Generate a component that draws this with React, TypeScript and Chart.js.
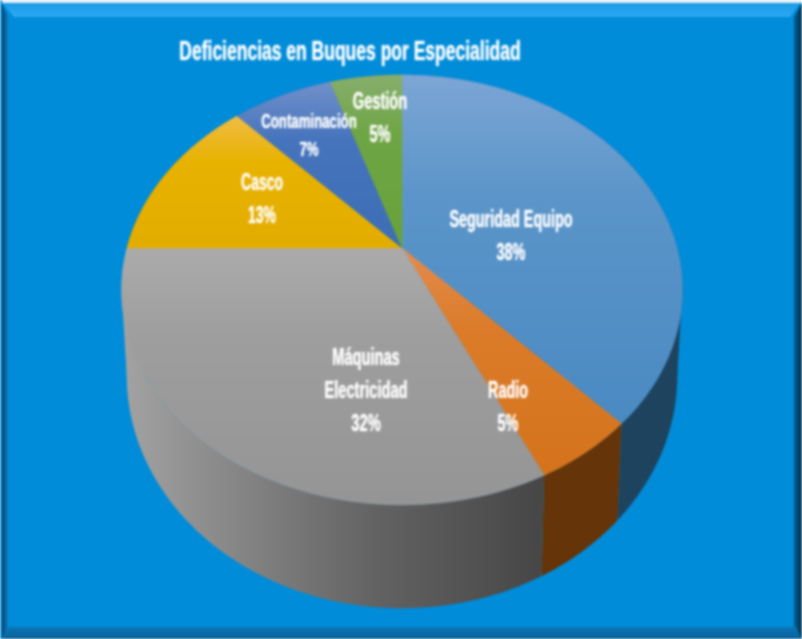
import React, { useEffect, useRef } from "react";
import { Chart, registerables } from "chart.js";

Chart.register(...registerables);

const TITLE = "Deficiencias en Buques por Especialidad";
const categories = ["Seguridad Equipo", "Radio", "Máquinas\nElectricidad", "Casco", "Contaminación", "Gestión"];
const shares = [38, 5, 32, 13, 7, 5];
const faceBase = ["#5b95c9", "#dc7c2a", "#9e9e9e", "#e8b200", "#4674bc", "#6ea545"];
const faceLight = ["#7ca6d5", "#e48c4e", "#ababab", "#efbd45", "#7190ca", "#87ae6c"];
const faceDark = ["#4a8ac2", "#d4731b", "#959595", "#e3ad00", "#3c6eb5", "#69a33a"];
const sideColor = ["#1e435e", "#653408", null, "#6e5300", "#1f3a66", "#38561f"];
const labelAnchor = [[511, 220], [508, 391], [366, 358], [262, 183], [309, 122], [380, 102]];
const labelSize = [24, 24, 24, 24, 21, 24];
const labelStretch = [0.6, 0.6, 0.61, 0.58, 0.63, 0.61];

const W = 802;
const H = 639;
const topFace = { cx: 402, cy: 248, a: 275, b: 206.8, p: -0.195 };
const baseFace = { cx: 402, cy: 330, a: 270, b: 224, p: -0.195 };

type Face = typeof topFace;
const project = (f: Face, t: number): [number, number] => {
  const u = Math.cos(t), v = Math.sin(t), d = 1 + f.p * v;
  return [f.cx + (f.a * u) / d, f.cy + (f.b * v) / d];
};
const arcPoints = (f: Face, s: number, e: number) => {
  const n = Math.max(2, Math.ceil((e - s) / 0.01));
  const pts: [number, number][] = [];
  for (let i = 0; i <= n; i++) pts.push(project(f, s + ((e - s) * i) / n));
  return pts;
};
const greyWall = (c: CanvasRenderingContext2D) => {
  const l = c.createLinearGradient(125, 0, 537, 0);
  l.addColorStop(0, "#a2a2a2");
  l.addColorStop(0.6, "#636363");
  l.addColorStop(1, "#474747");
  return l;
};

const pie3d = {
  id: "pie3d",
  beforeDraw(chart: any) {
    const c = chart.ctx as CanvasRenderingContext2D;
    c.save();
    c.fillStyle = "#008cd9";
    c.fillRect(0, 0, W, H);
    const g = (x0: number, y0: number, x1: number, y1: number, a: string, b: string) => {
      const l = c.createLinearGradient(x0, y0, x1, y1);
      l.addColorStop(0, a);
      l.addColorStop(1, b);
      return l;
    };
    c.fillStyle = g(0, 3, 0, 17, "#1c9ce6", "#2aaaf2");
    c.beginPath(); c.moveTo(2, 3); c.lineTo(800, 3); c.lineTo(790, 17); c.lineTo(14, 17); c.closePath(); c.fill();
    c.fillStyle = g(788, 0, 802, 0, "#0082ca", "#02304e");
    c.beginPath(); c.moveTo(802, 3); c.lineTo(802, 639); c.lineTo(794, 628); c.lineTo(794, 17); c.closePath(); c.fill();
    c.fillStyle = g(0, 626, 0, 639, "#0a78bc", "#0a5f96");
    c.beginPath(); c.moveTo(3, 639); c.lineTo(802, 639); c.lineTo(796, 627); c.lineTo(8, 627); c.closePath(); c.fill();
    c.fillStyle = g(0, 0, 8, 0, "#0a2c48", "#0a7ec6");
    c.beginPath(); c.moveTo(2, 3); c.lineTo(8, 17); c.lineTo(8, 627); c.lineTo(2, 639); c.closePath(); c.fill();
    c.fillStyle = "#e4eef4";
    c.fillRect(2, 0, 800, 3);
    c.restore();
  },
  beforeDatasetDraw(chart: any) {
    const c = chart.ctx as CanvasRenderingContext2D;
    const arcs = chart.getDatasetMeta(0).data;
    c.save();
    // silhouette: join the widest points of the two rims so the wall has no notch
    const widest = Math.asin(-topFace.p);
    [[widest, sideColor[0]], [Math.PI - widest, null]].forEach(([t, col]: any) => {
      const [x0, y0] = project(topFace, t);
      const [x1, y1] = project(baseFace, t);
      c.beginPath();
      c.moveTo(x0, y0);
      c.lineTo(x1, y1);
      c.lineTo(topFace.cx, y1);
      c.lineTo(topFace.cx, y0);
      c.closePath();
      c.fillStyle = col || greyWall(c);
      c.fill();
    });
    arcs.forEach((arc: any, i: number) => {
      const s = arc.startAngle, e = arc.endAngle;
      const top = arcPoints(topFace, s, e);
      const bot = arcPoints(baseFace, s, e).reverse();
      c.beginPath();
      [...top, ...bot].forEach(([x, y], k) => (k ? c.lineTo(x, y) : c.moveTo(x, y)));
      c.closePath();
      c.fillStyle = (sideColor[i] as string) || greyWall(c);
      c.fill();
    });
    arcs.forEach((arc: any, i: number) => {
      const pts = [[topFace.cx, topFace.cy], ...arcPoints(topFace, arc.startAngle, arc.endAngle)];
      const ys = pts.map((p) => p[1]);
      const l = c.createLinearGradient(0, Math.min(...ys), 0, Math.max(...ys));
      l.addColorStop(0, faceLight[i]);
      l.addColorStop(0.35, faceBase[i]);
      l.addColorStop(1, faceDark[i]);
      c.beginPath();
      pts.forEach(([x, y], k) => (k ? c.lineTo(x, y) : c.moveTo(x, y)));
      c.closePath();
      c.fillStyle = l;
      c.fill();
      c.strokeStyle = l;
      c.lineWidth = 0.6;
      c.stroke();
    });
    c.restore();
    return false;
  },
  afterDraw(chart: any) {
    const c = chart.ctx as CanvasRenderingContext2D;
    const put = (text: string, x: number, y: number, size: number, sx: number) => {
      c.save();
      c.translate(x, y);
      c.scale(sx, 1);
      c.font = `bold ${size}px "Liberation Sans Narrow", "Liberation Sans", sans-serif`;
      c.textAlign = "center";
      c.textBaseline = "middle";
      c.fillStyle = "#ffffff";
      c.shadowColor = "rgba(255,255,255,0.6)";
      c.shadowBlur = 2;
      c.fillText(text, 0, 0);
      c.restore();
    };
    put(chart.options.plugins.title.text, 350, 52, 28, 0.625);
    const values = chart.data.datasets[0].data as number[];
    (chart.data.labels as string[]).forEach((lab, i) => {
      const lines = [...lab.split("\n"), `${values[i]}%`];
      const [x, y] = labelAnchor[i];
      const step = i === 4 ? 28 : 33;
      lines.forEach((t, k) => put(t, x, y + k * step, labelSize[i], labelStretch[i]));
    });
  },
};

export default function App() {
  const ref = useRef<HTMLCanvasElement>(null);
  useEffect(() => {
    document.body.style.margin = "0";
    const chart = new Chart(ref.current as HTMLCanvasElement, {
      type: "pie",
      data: {
        labels: categories,
        datasets: [{ data: shares, backgroundColor: faceBase, borderWidth: 0 }],
      },
      options: {
        animation: false,
        responsive: false,
        events: [],
        plugins: {
          legend: { display: false },
          tooltip: { enabled: false },
          title: { display: false, text: TITLE },
        },
      },
      plugins: [pie3d],
    });
    return () => chart.destroy();
  }, []);
  return (
    <canvas
      ref={ref}
      width={W}
      height={H}
      style={{ display: "block", width: W, height: H, filter: "blur(0.8px)" }}
    />
  );
}
